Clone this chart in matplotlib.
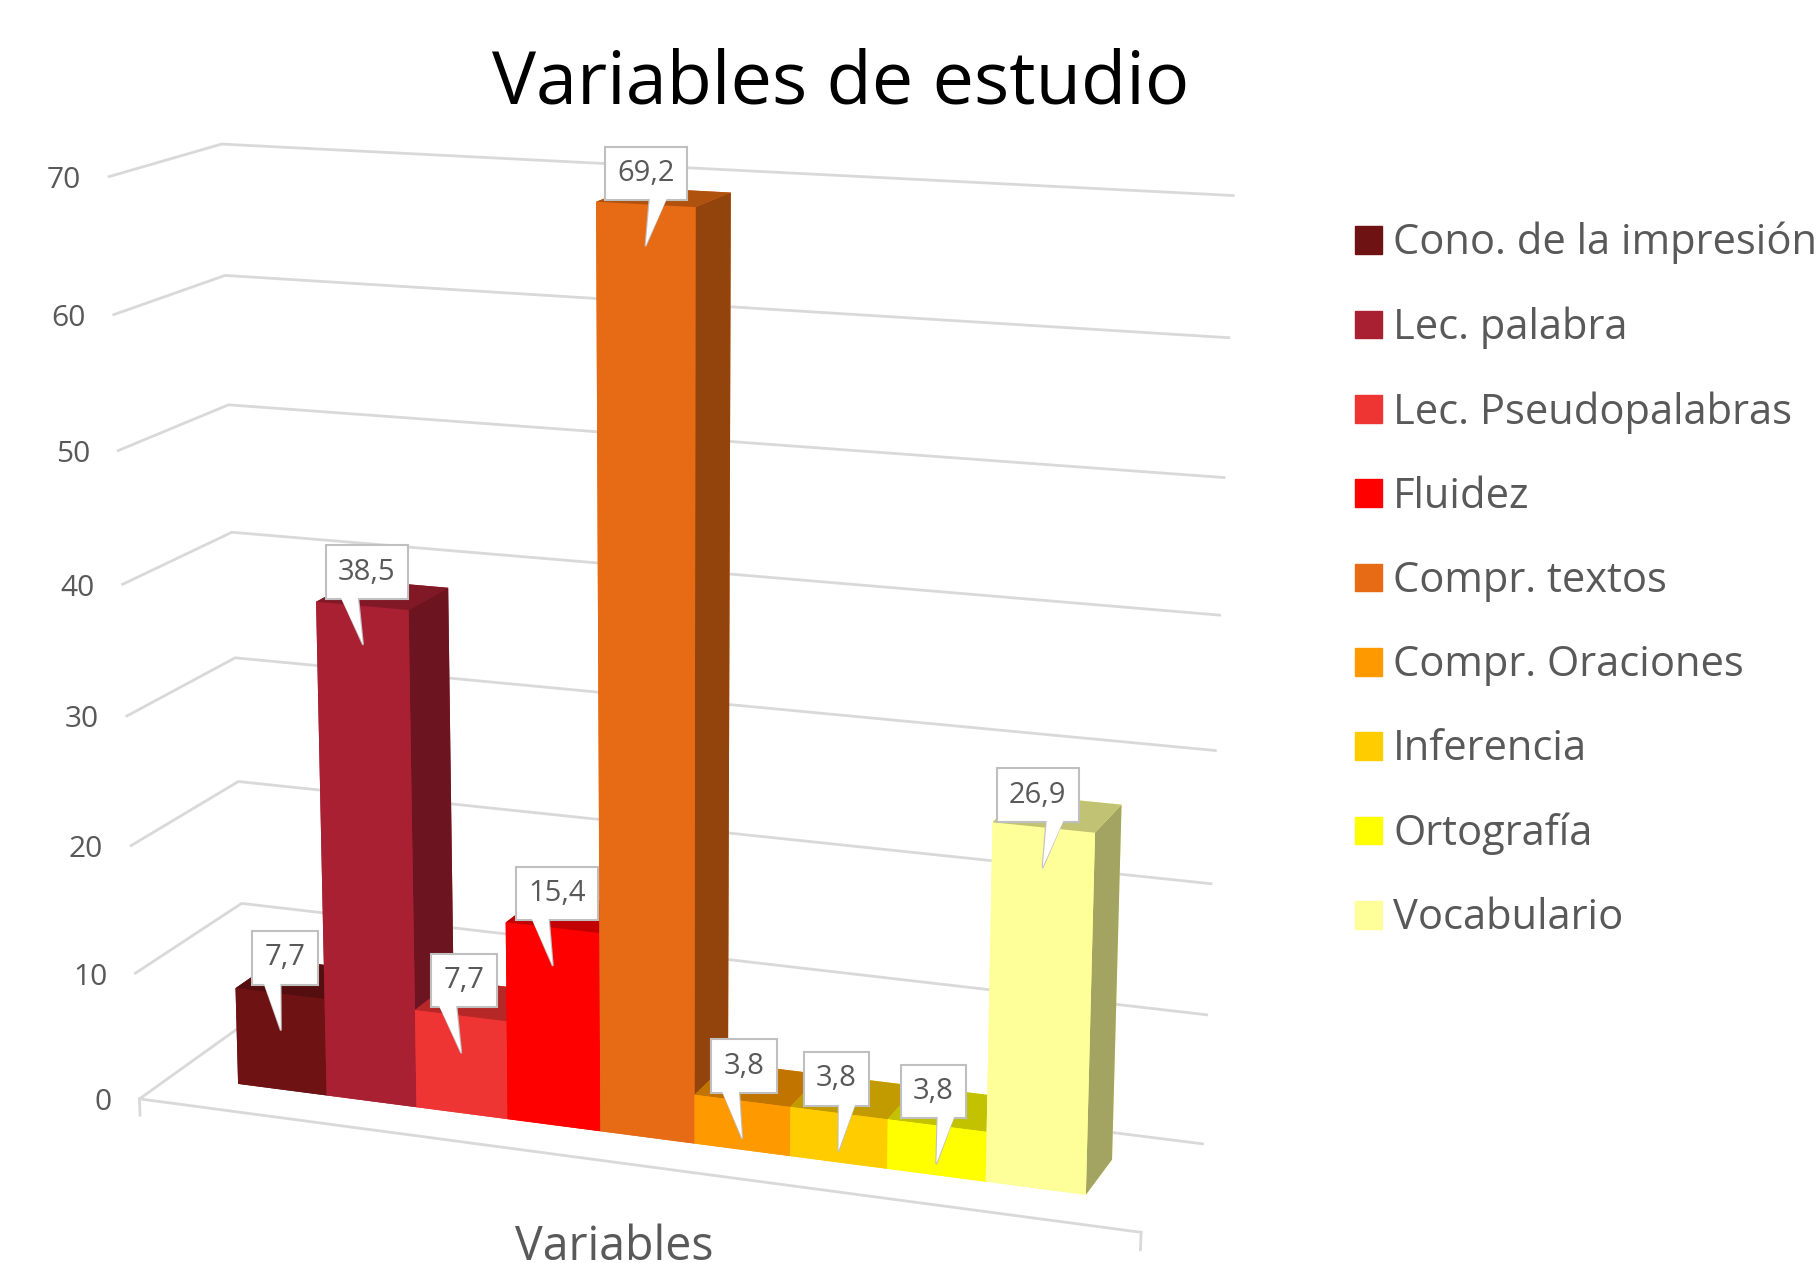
import numpy as np
import matplotlib
matplotlib.use('Agg')
import matplotlib.pyplot as plt
from matplotlib.patches import Patch
from mpl_toolkits.mplot3d import proj3d

W, H = 1819, 1263
categorias = ['Cono. de la impresión', 'Lec. palabra', 'Lec. Pseudopalabras', 'Fluidez', 'Compr. textos',
              'Compr. Oraciones', 'Inferencia', 'Ortografía', 'Vocabulario']
valores = [7.7, 38.5, 7.7, 15.4, 69.2, 3.8, 3.8, 3.8, 26.9]
colores = ['#6f1214', '#a82032', '#ef3434', '#ff0000', '#e66b14', '#ff9900', '#ffcc00', '#ffff00', '#ffff99']
ticks_z = [0, 10, 20, 30, 40, 50, 60, 70]

# desplazamiento en pixeles de cada etiqueta y de la base de su cola
caja_dx = [4, 4, 3, 4, 0, 2, -2, -3, -5]
cola_dx = [-9, -14, -14, -13, 13, -12, 9, 10, 13]

# camara ajustada contra la imagen original
elev, azim, roll = 14.5431, -69.74, 0.0421
focal = np.exp(-0.5695)
caja = (1, np.exp(-1.4424), np.exp(-0.1039))
x0, x1, yf, yb = 0.0717, 0.9301, 0.3025, 0.7050
s, tx, ty = 7681.9, 663.0, 596.5

fig = plt.figure(figsize=(W/100, H/100), dpi=100)
ax = fig.add_axes([0, 0, 1, 1], projection='3d')
ax.view_init(elev, azim, roll)
ax.set_proj_type('persp', focal_length=float(focal))
ax.set_box_aspect(tuple(float(c) for c in caja))
xv = ax.viewLim.intervalx
yv = ax.viewLim.intervaly
ax.set_position([(tx + s*xv[0])/W, (ty + s*yv[0])/H, s*(xv[1]-xv[0])/W, s*(yv[1]-yv[0])/H])

L = 9/(x1-x0)
xlo = -x0*L
xhi = xlo+L
ax.set_xlim(xlo, xhi)
ax.set_ylim(0, 1)
ax.set_zlim(0, 70)
ax.set_axis_off()
ax.computed_zorder = False

for z in ticks_z:
    ax.plot([xlo, xlo, xhi], [0, 1, 1], [z, z, z], color='#d9d9d9', lw=2, zorder=1)
ax.plot([xlo, xhi], [0, 0], [0, 0], color='#d9d9d9', lw=2, zorder=1)
ax.plot([xlo, xlo], [0, 0], [0, -1.3], color='#d9d9d9', lw=2, zorder=1)
ax.plot([xhi, xhi], [0, 0], [0, -1.3], color='#d9d9d9', lw=2, zorder=1)

def oscuro(c, k):
    return tuple(np.array(matplotlib.colors.to_rgb(c))*k)

for i, (v, c) in enumerate(zip(valores, colores)):
    caras = [c, oscuro(c, .76), c, c, c, oscuro(c, .64)]
    ax.bar3d(i, yf, 0, 1, yb-yf, v, color=caras, shade=False, zorder=i+2)

M = ax.get_proj()
cola = 'wedge,tail_width=0.6,shrink_factor=0.5'
for i, v in enumerate(valores):
    a, b, _ = proj3d.proj_transform(i+.5, yf, v-2.9, M)
    # cola con borde, caja encima y cola blanca para abrir el borde de la caja
    ax.annotate('', xy=(a, b), xytext=(cola_dx[i], 52), textcoords='offset pixels', annotation_clip=False, zorder=30,
                arrowprops=dict(arrowstyle=cola, mutation_scale=21, fc='white', ec='#bfbfbf', lw=1.5, shrinkA=0, shrinkB=0))
    ax.annotate(str(v).replace('.', ','), xy=(a, b), xytext=(caja_dx[i], 72), textcoords='offset pixels',
                annotation_clip=False, ha='center', va='center', fontsize=21, color='#595959', family='Open Sans', zorder=31,
                bbox=dict(boxstyle='square,pad=0.42', fc='white', ec='#bfbfbf', lw=1.5))
    ax.annotate('', xy=(a, b), xytext=(cola_dx[i], 50), textcoords='offset pixels', annotation_clip=False, zorder=32,
                arrowprops=dict(arrowstyle=cola, mutation_scale=21, fc='white', ec='none', lw=0, shrinkA=0, shrinkB=0))
for z in ticks_z:
    a, b, _ = proj3d.proj_transform(xlo, 0, z, M)
    ax.annotate(str(z), xy=(a, b), xytext=(-28, -4), textcoords='offset pixels', annotation_clip=False,
                ha='right', va='center', fontsize=21.5, color='#595959', family='Open Sans')

fig.text(841/W, 1-85/H, 'Variables de estudio', ha='center', va='center', fontsize=53.2, color='black', family='Open Sans')
fig.text(614/W, 1-1247/H, 'Variables', ha='center', va='center', fontsize=33.5, color='#595959', family='Open Sans')
fig.legend(handles=[Patch(color=c, label=n) for n, c in zip(categorias, colores)], loc='upper left',
           bbox_to_anchor=(1355/W, 1-222/H), frameon=False, handlelength=.65, handleheight=.65,
           labelspacing=1.012, handletextpad=.27, borderpad=0, borderaxespad=0, labelcolor='#595959',
           prop={'family': 'Open Sans', 'size': 30})
fig.savefig('out.png', dpi=100)
